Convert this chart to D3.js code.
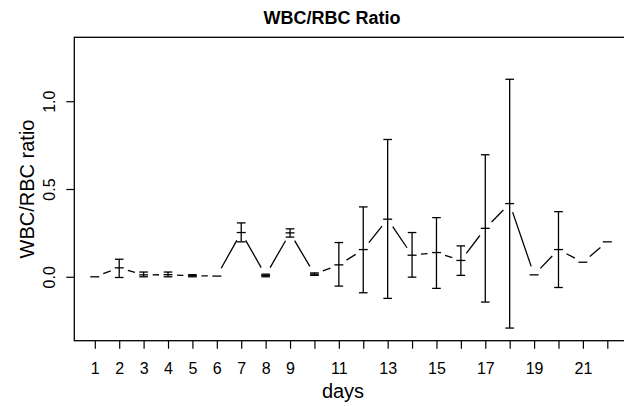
<!DOCTYPE html>
<html>
<head>
<meta charset="utf-8">
<script src="https://cdn.jsdelivr.net/npm/d3@7"></script>
<style>
  html, body { margin: 0; padding: 0; background: #fff; }
  svg { display: block; }
  text { font-family: "Liberation Sans", Arial, Helvetica, sans-serif; fill: #000; }
</style>
</head>
<body>
<svg id="chart" width="624" height="406"></svg>
<script>
// ---- data ----
const days  = [1, 2, 3, 4, 5, 6, 7, 8, 9, 10, 11, 12, 13, 14, 15, 16, 17, 18, 19, 20, 21, 22];
const means = [0.000, 0.051, 0.011, 0.012, 0.006, 0.004, 0.252, 0.008, 0.250, 0.015, 0.068, 0.155, 0.328, 0.123, 0.138, 0.093, 0.276, 0.417, 0.011, 0.155, 0.083, 0.199];
const lower = [null, -0.004, 0.000, 0.000, 0.000, null, 0.199, 0.000, 0.226, 0.008, -0.053, -0.091, -0.123, -0.002, -0.066, 0.008, -0.144, -0.292, null, -0.061, null, null];
const upper = [null, 0.100, 0.027, 0.027, 0.012, null, 0.307, 0.015, 0.273, 0.022, 0.195, 0.398, 0.782, 0.252, 0.337, 0.176, 0.695, 1.125, null, 0.371, null, null];
const xTickLabels = [1, 2, 3, 4, 5, 6, 7, 8, 9, 11, 13, 15, 17, 19, 21];
const yTicks = [0, 0.5, 1.0];
const titleText = "WBC/RBC Ratio";
const xLabel = "days";
const yLabel = "WBC/RBC ratio";

// ---- layout ----
const svg = d3.select("#chart");
const pLeft = 74.3, pTop = 37.3, pRight = 627.8, pBottom = 340.7;

const x = d3.scaleLinear().domain([0.16, 22.84]).range([pLeft, pRight]);
const y = d3.scaleLinear().domain([-0.364, 1.364]).range([pBottom, pTop]);

const g = svg.append("g");

// box
g.append("rect")
  .attr("x", pLeft).attr("y", pTop)
  .attr("width", pRight - pLeft).attr("height", pBottom - pTop)
  .attr("fill", "none").attr("stroke", "#000").attr("stroke-width", 1.3);

// x axis
const xAxis = d3.axisBottom(x)
  .tickValues(days)
  .tickSize(8)
  .tickPadding(14)
  .tickFormat(d => xTickLabels.includes(d) ? String(d) : "");
const xg = g.append("g").attr("transform", `translate(0,${pBottom})`).call(xAxis);
xg.select(".domain").remove();
xg.selectAll(".tick line").attr("stroke", "#000").attr("stroke-width", 1.2);
xg.selectAll(".tick text")
  .attr("font-size", 16)
  .attr("font-family", "Liberation Sans, Arial, sans-serif")
  .attr("fill", "#000");

// y axis
const yAxis = d3.axisLeft(y)
  .tickValues(yTicks)
  .tickSize(8)
  .tickPadding(0)
  .tickFormat(d3.format(".1f"));
const yg = g.append("g").attr("transform", `translate(${pLeft},0)`).call(yAxis);
yg.select(".domain").remove();
yg.selectAll(".tick line").attr("stroke", "#000").attr("stroke-width", 1.2);
yg.selectAll(".tick text")
  .attr("font-size", 16)
  .attr("font-family", "Liberation Sans, Arial, sans-serif")
  .attr("fill", "#000")
  .attr("x", null).attr("dy", null)
  .attr("text-anchor", "middle")
  .attr("transform", `translate(${55 - pLeft},0) rotate(-90)`);

// connecting line with gaps (type "b")
const gap = 9;
const pts = days.map((d, i) => [x(d), y(means[i])]);
for (let i = 0; i < pts.length - 1; i++) {
  const [x0, y0] = pts[i], [x1, y1] = pts[i + 1];
  const dx = x1 - x0, dy = y1 - y0, L = Math.hypot(dx, dy);
  if (L <= 2 * gap) continue;
  const ux = dx / L, uy = dy / L;
  g.append("line")
    .attr("x1", x0 + ux * gap).attr("y1", y0 + uy * gap)
    .attr("x2", x1 - ux * gap).attr("y2", y1 - uy * gap)
    .attr("stroke", "#000").attr("stroke-width", 1.3);
}

// error bars
const cap = 4.3;
days.forEach((d, i) => {
  if (lower[i] === null) return;
  const cx = x(d);
  g.append("line")
    .attr("x1", cx).attr("x2", cx)
    .attr("y1", y(lower[i])).attr("y2", y(upper[i]))
    .attr("stroke", "#000").attr("stroke-width", 1.3);
  [lower[i], upper[i]].forEach(v => {
    g.append("line")
      .attr("x1", cx - cap).attr("x2", cx + cap)
      .attr("y1", y(v)).attr("y2", y(v))
      .attr("stroke", "#000").attr("stroke-width", 1.3);
  });
});

// point glyphs (short horizontal dash)
const half = 4.5;
pts.forEach(([px, py]) => {
  g.append("line")
    .attr("x1", px - half).attr("x2", px + half)
    .attr("y1", py).attr("y2", py)
    .attr("stroke", "#000").attr("stroke-width", 1.3);
});

// titles
svg.append("text")
  .attr("x", 332).attr("y", 24)
  .attr("text-anchor", "middle")
  .attr("font-size", 18).attr("font-weight", "bold")
  .text(titleText);

svg.append("text")
  .attr("x", 343).attr("y", 398)
  .attr("text-anchor", "middle")
  .attr("font-size", 20)
  .text(xLabel);

svg.append("text")
  .attr("transform", `translate(34,${(pTop + pBottom) / 2}) rotate(-90)`)
  .attr("text-anchor", "middle")
  .attr("font-size", 20)
  .text(yLabel);
</script>
</body>
</html>
